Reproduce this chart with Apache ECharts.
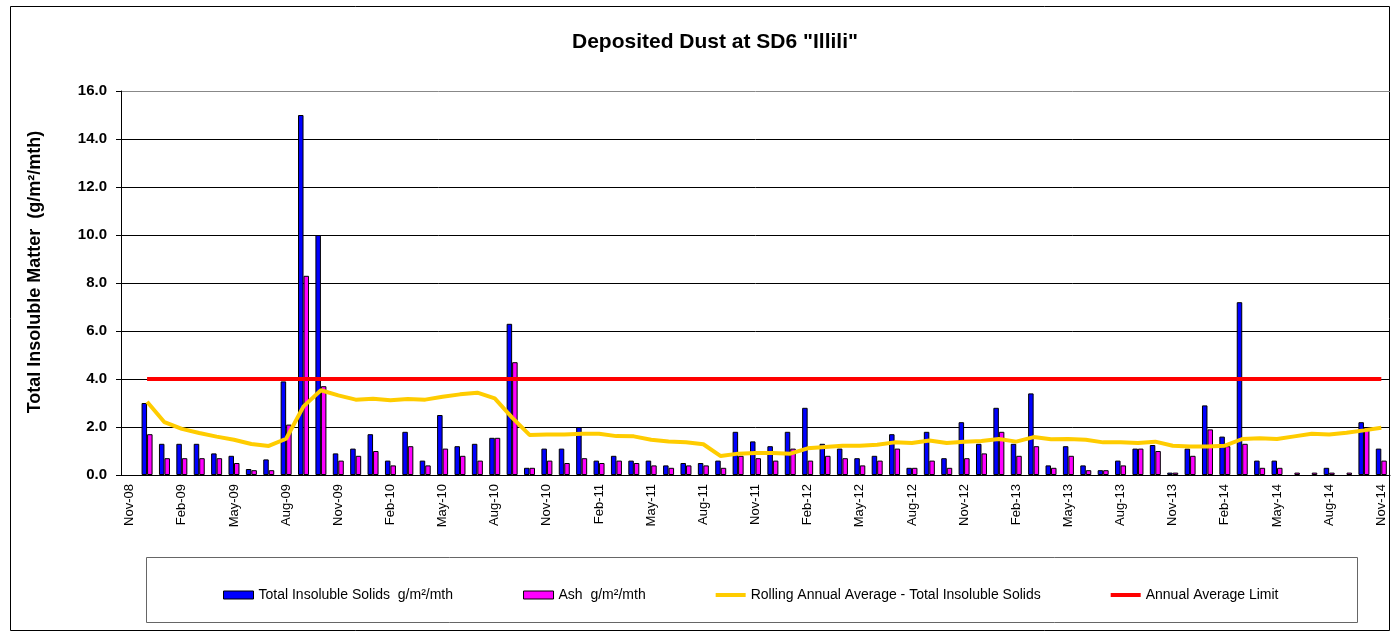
<!DOCTYPE html>
<html><head><meta charset="utf-8">
<script src="https://cdn.jsdelivr.net/npm/echarts@6/dist/echarts.min.js"></script>
<style>html,body{margin:0;padding:0;background:#fff}#c{width:1393px;height:634px}</style>
</head><body><div id="c"></div>
<script>
const categories = ['Nov-08','Dec-08',
 'Jan-09','Feb-09','Mar-09','Apr-09','May-09','Jun-09','Jul-09','Aug-09','Sep-09','Oct-09','Nov-09','Dec-09',
 'Jan-10','Feb-10','Mar-10','Apr-10','May-10','Jun-10','Jul-10','Aug-10','Sep-10','Oct-10','Nov-10','Dec-10',
 'Jan-11','Feb-11','Mar-11','Apr-11','May-11','Jun-11','Jul-11','Aug-11','Sep-11','Oct-11','Nov-11','Dec-11',
 'Jan-12','Feb-12','Mar-12','Apr-12','May-12','Jun-12','Jul-12','Aug-12','Sep-12','Oct-12','Nov-12','Dec-12',
 'Jan-13','Feb-13','Mar-13','Apr-13','May-13','Jun-13','Jul-13','Aug-13','Sep-13','Oct-13','Nov-13','Dec-13',
 'Jan-14','Feb-14','Mar-14','Apr-14','May-14','Jun-14','Jul-14','Aug-14','Sep-14','Oct-14','Nov-14'];

// Monthly values, Dec-08 .. Nov-14 (Nov-08 has no data)
const totalSolids = [3.0,1.3,1.3,1.3,0.9,0.8,0.25,0.65,3.9,15.0,10.0,0.9,
 1.1,1.7,0.6,1.8,0.6,2.5,1.2,1.3,1.55,6.3,0.3,1.1,
 1.1,2.0,0.6,0.8,0.6,0.6,0.4,0.5,0.5,0.6,1.8,1.4,
 1.2,1.8,2.8,1.3,1.1,0.7,0.8,1.7,0.3,1.8,0.7,2.2,
 1.3,2.8,1.3,3.4,0.4,1.2,0.4,0.2,0.6,1.1,1.25,0.1,
 1.1,2.9,1.6,7.2,0.6,0.6,null,null,0.3,null,2.2,1.1];

const ash = [1.7,0.7,0.7,0.7,0.7,0.5,0.2,0.2,2.1,8.3,3.7,0.6,
 0.8,1.0,0.4,1.2,0.4,1.1,0.8,0.6,1.55,4.7,0.3,0.6,
 0.5,0.7,0.5,0.6,0.5,0.4,0.3,0.4,0.4,0.3,0.8,0.7,
 0.6,1.1,0.6,0.8,0.7,0.4,0.6,1.1,0.3,0.6,0.3,0.7,
 0.9,1.8,0.8,1.2,0.3,0.8,0.2,0.2,0.4,1.1,1.0,0.1,
 0.8,1.9,1.2,1.3,0.3,0.3,0.1,0.1,0.1,0.1,2.0,0.6];

const rollingAvg = [3.05,2.2,1.92,1.75,1.6,1.47,1.29,1.21,1.51,2.86,3.53,3.32,
 3.14,3.18,3.11,3.17,3.14,3.26,3.36,3.43,3.19,2.39,1.67,1.69,
 1.69,1.72,1.72,1.62,1.61,1.47,1.40,1.36,1.28,0.79,0.89,0.92,
 0.92,0.89,1.11,1.17,1.22,1.22,1.26,1.36,1.33,1.44,1.33,1.39,
 1.42,1.5,1.39,1.58,1.49,1.5,1.47,1.36,1.36,1.33,1.39,1.22,
 1.19,1.19,1.22,1.5,1.53,1.5,1.61,1.72,1.69,1.76,1.86,1.97];

const annualLimit = [4.0,4.0,4.0,4.0,4.0,4.0,4.0,4.0,4.0,4.0,4.0,4.0,
 4.0,4.0,4.0,4.0,4.0,4.0,4.0,4.0,4.0,4.0,4.0,4.0,
 4.0,4.0,4.0,4.0,4.0,4.0,4.0,4.0,4.0,4.0,4.0,4.0,
 4.0,4.0,4.0,4.0,4.0,4.0,4.0,4.0,4.0,4.0,4.0,4.0,
 4.0,4.0,4.0,4.0,4.0,4.0,4.0,4.0,4.0,4.0,4.0,4.0,
 4.0,4.0,4.0,4.0,4.0,4.0,4.0,4.0,4.0,4.0,4.0,4.0];

const yTicks = [0,2,4,6,8,10,12,14,16];

const seriesNames = ['Total Insoluble Solids  g/m\u00b2/mth','Ash  g/m\u00b2/mth',
  'Rolling Annual Average - Total Insoluble Solids','Annual Average Limit'];

const FONT = 'Arial, "Liberation Sans", sans-serif';
const pad = arr => [null].concat(arr);
const lineIcon = 'path://M0 0H30V4H0Z';

const chart = echarts.init(document.getElementById('c'), null, {renderer:'canvas'});
chart.setOption({
  animation:false,
  backgroundColor:'#fff',
  title:{text:'Deposited Dust at SD6 "Illili"', left:567, top:27,
    textStyle:{fontFamily:FONT,fontSize:21,fontWeight:'bold',color:'#000'}},
  graphic:[
    {type:'rect', shape:{x:10.5,y:6.5,width:1379,height:624}, style:{fill:'none',stroke:'#000',lineWidth:1}, silent:true},
    {type:'rect', shape:{x:146.5,y:557.5,width:1211,height:65}, style:{fill:'none',stroke:'#666',lineWidth:1}, silent:true},
    {type:'text', x:35, y:272, rotation:Math.PI/2,
      style:{text:'Total Insoluble Matter  (g/m\u00b2/mth)', fontFamily:FONT, fontSize:18, fontWeight:'bold', fill:'#000', textAlign:'center', textVerticalAlign:'middle'}}
  ],
  grid:{left:121,right:3,top:91,bottom:159},
  legend:{left:218, top:583, itemGap:70, itemWidth:30, itemHeight:8,
    textStyle:{fontFamily:FONT,fontSize:14,color:'#000'},
    data:[
      {name:seriesNames[0], icon:'rect', itemStyle:{borderColor:'#000',borderWidth:1}},
      {name:seriesNames[1], icon:'rect', itemStyle:{borderColor:'#000',borderWidth:1}},
      {name:seriesNames[2], icon:lineIcon, itemStyle:{color:'#FFCC00',borderWidth:0}},
      {name:seriesNames[3], icon:lineIcon, itemStyle:{color:'#FF0000',borderWidth:0}}
    ]},
  xAxis:{type:'category', data:categories, boundaryGap:true,
    axisLine:{lineStyle:{color:'#000',width:1}},
    axisTick:{interval:2,length:5,lineStyle:{color:'#000'}},
    axisLabel:{interval:2, rotate:90, margin:9, fontFamily:FONT, fontSize:13, color:'#000'},
    splitLine:{show:false}},
  yAxis:{type:'value', min:yTicks[0], max:yTicks[yTicks.length-1], interval:2,
    axisLine:{show:true,lineStyle:{color:'#000'}},
    axisTick:{show:true,length:5,lineStyle:{color:'#000'}},
    axisLabel:{margin:14, formatter:v=>v.toFixed(1), fontFamily:FONT, fontSize:15, fontWeight:'bold', color:'#000'},
    splitLine:{lineStyle:{color:['#000','#000','#000','#000','#000','#000','#000','#000','#888'],width:1}}},
  series:[
    {name:seriesNames[0], type:'bar', data:pad(totalSolids), barWidth:5.5, barGap:'0%',
      itemStyle:{color:'#0000FF', borderColor:'#000', borderWidth:1}},
    {name:seriesNames[1], type:'bar', data:pad(ash), barWidth:5.5, barGap:'0%',
      itemStyle:{color:'#FF00FF', borderColor:'#000', borderWidth:1}},
    {name:seriesNames[2], type:'line', data:pad(rollingAvg), symbol:'none', showSymbol:false,
      lineStyle:{color:'#FFCC00', width:4}, itemStyle:{color:'#FFCC00'}, z:3},
    {name:seriesNames[3], type:'line', data:pad(annualLimit), symbol:'none', showSymbol:false,
      lineStyle:{color:'#FF0000', width:4}, itemStyle:{color:'#FF0000'}, z:4}
  ]
});
</script></body></html>
